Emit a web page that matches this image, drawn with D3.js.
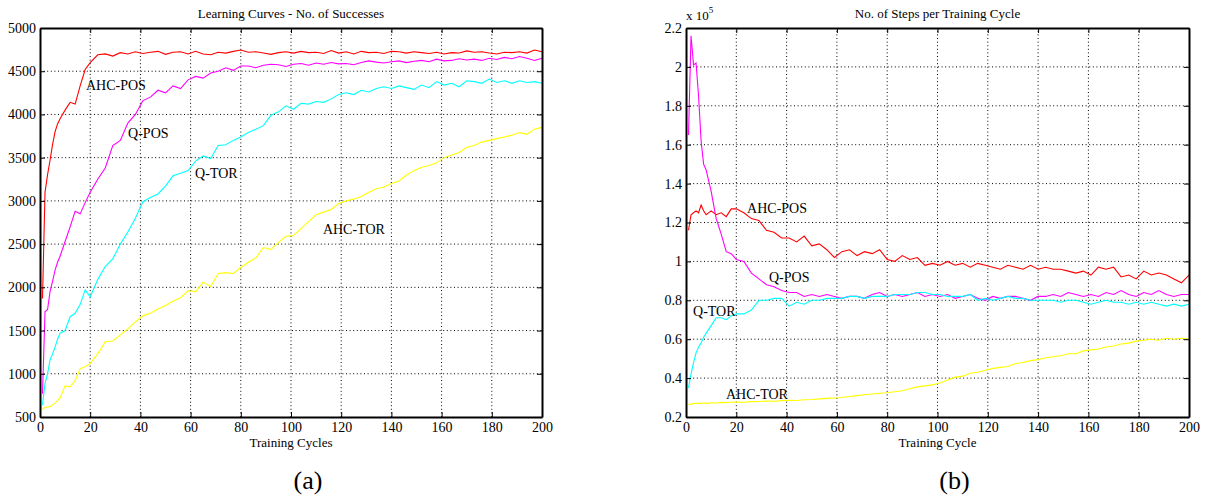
<!DOCTYPE html>
<html>
<head>
<meta charset="utf-8">
<script src="https://cdn.jsdelivr.net/npm/d3@7"></script>
<style>
  body { margin: 0; background: #fff; }
</style>
</head>
<body>
<script>
// training cycles at which the curves are sampled
var cycles = [1,2,3,4,5,6,7,8,10,12,14,16,18,20,
  23,26,29,32,35,38,41,44,47,50,53,56,59,62,65,68,71,74,77,80,
  83,86,89,92,95,98,101,104,107,110,113,116,119,122,125,128,131,134,137,140,
  143,146,149,152,155,158,161,164,167,170,173,176,179,182,185,188,191,194,197,200];

// (a) number of successes
var succAhcPos = [1870,3100,3300,3470,3650,3800,3890,3950,4050,4140,4120,4330,4520,4600,
  4690,4700,4675,4715,4700,4725,4705,4720,4730,4695,4720,4725,4700,4730,4700,4690,4720,4710,4730,4745,
  4720,4725,4710,4695,4715,4725,4710,4730,4715,4720,4705,4740,4710,4725,4700,4730,4715,4720,4705,4730,
  4725,4710,4725,4715,4705,4720,4700,4715,4710,4735,4720,4725,4710,4700,4720,4715,4725,4710,4745,4725];
var succQPos = [770,1720,1740,1950,2070,2200,2290,2360,2530,2700,2880,2850,2980,3100,
  3250,3380,3640,3700,3900,4000,4160,4200,4280,4250,4330,4300,4400,4440,4420,4480,4500,4540,4510,4560,
  4560,4540,4570,4580,4575,4555,4580,4590,4570,4595,4580,4600,4585,4590,4575,4600,4620,4605,4595,4610,
  4620,4600,4615,4625,4610,4640,4620,4625,4645,4630,4640,4625,4650,4635,4660,4645,4670,4650,4625,4650];
var succQTor = [640,890,1000,1160,1230,1310,1400,1470,1500,1660,1700,1800,1970,1890,
  2090,2240,2330,2500,2640,2800,2990,3040,3080,3170,3290,3320,3350,3460,3520,3490,3640,3650,3700,3740,
  3790,3830,3870,3990,4030,4100,4060,4130,4120,4150,4140,4180,4230,4250,4230,4280,4260,4300,4320,4300,
  4330,4310,4290,4340,4310,4380,4340,4360,4320,4390,4380,4360,4410,4370,4390,4360,4390,4370,4380,4360];
var succAhcTor = [590,610,615,620,640,660,690,720,860,850,920,1060,1080,1120,
  1230,1370,1380,1450,1520,1600,1670,1700,1750,1790,1840,1880,1960,1950,2060,2010,2160,2170,2160,2230,
  2290,2340,2460,2440,2520,2590,2600,2680,2760,2840,2870,2900,2970,3000,3020,3050,3100,3140,3160,3200,
  3230,3300,3350,3390,3410,3440,3500,3530,3560,3620,3640,3680,3700,3720,3740,3760,3790,3770,3830,3850];

// (b) steps per training cycle, in units of 10^5
var stepsAhcPos = [1.16,1.24,1.25,1.26,1.25,1.29,1.26,1.24,1.26,1.24,1.25,1.23,1.27,1.27,
  1.25,1.22,1.21,1.16,1.15,1.12,1.12,1.10,1.13,1.08,1.09,1.06,1.02,1.05,1.06,1.03,1.05,1.04,1.06,1.01,
  1.00,1.03,1.01,1.02,0.98,0.99,0.98,1.00,0.98,0.99,0.97,0.99,0.98,0.97,0.96,0.98,0.97,0.96,0.98,0.96,
  0.97,0.96,0.96,0.95,0.94,0.95,0.93,0.97,0.96,0.97,0.92,0.93,0.91,0.95,0.93,0.94,0.93,0.91,0.89,0.93];
var stepsQPos = [1.65,2.16,2.01,2.02,1.85,1.62,1.50,1.47,1.36,1.22,1.14,1.05,1.04,1.01,
  1.00,0.94,0.91,0.88,0.87,0.85,0.84,0.84,0.82,0.83,0.82,0.83,0.82,0.81,0.82,0.82,0.81,0.83,0.84,0.82,
  0.83,0.82,0.83,0.84,0.82,0.83,0.82,0.83,0.81,0.82,0.83,0.81,0.80,0.82,0.81,0.82,0.82,0.81,0.80,0.82,
  0.82,0.83,0.82,0.84,0.83,0.82,0.83,0.82,0.84,0.83,0.85,0.83,0.82,0.84,0.83,0.85,0.83,0.82,0.83,0.83];
var stepsQTor = [0.35,0.42,0.48,0.53,0.56,0.58,0.61,0.63,0.67,0.71,0.71,0.70,0.72,0.73,
  0.73,0.75,0.80,0.80,0.81,0.81,0.77,0.79,0.78,0.80,0.80,0.81,0.81,0.81,0.82,0.82,0.81,0.82,0.82,0.82,
  0.83,0.83,0.83,0.84,0.84,0.83,0.83,0.82,0.82,0.82,0.83,0.80,0.81,0.80,0.81,0.82,0.81,0.81,0.80,0.80,
  0.80,0.80,0.79,0.80,0.80,0.79,0.78,0.79,0.80,0.79,0.79,0.78,0.79,0.78,0.79,0.78,0.77,0.78,0.77,0.78];
var stepsAhcTor = [0.265,0.265,0.27,0.27,0.27,0.27,0.272,0.27,0.273,0.272,0.275,0.274,0.276,0.277,
  0.276,0.279,0.28,0.282,0.281,0.284,0.286,0.285,0.289,0.29,0.293,0.296,0.298,0.30,0.305,0.31,0.314,0.318,0.322,0.325,
  0.33,0.335,0.345,0.355,0.36,0.365,0.375,0.39,0.405,0.41,0.425,0.43,0.44,0.45,0.455,0.46,0.475,0.48,0.49,0.495,
  0.505,0.51,0.515,0.525,0.525,0.54,0.545,0.55,0.56,0.565,0.575,0.58,0.59,0.595,0.60,0.595,0.605,0.60,0.605,0.60];

var seriesNames = ["AHC-POS", "Q-POS", "Q-TOR", "AHC-TOR"];
var seriesColors = ["#ff0000", "#ff00ff", "#00ffff", "#ffff00"];

// label anchors in data space: [cycle, value]
var succLabelPos = [[18.3, 4284], [35.1, 3728], [61.8, 3265], [112.7, 2617]];
var stepsLabelPos = [[24.3, 1.249], [33.0, 0.894], [2.8, 0.719], [15.9, 0.293]];

var serif = "'Liberation Serif', 'Times New Roman', Times, 'DejaVu Serif', serif";

var svg = d3.select("body").append("svg")
  .attr("width", 1207)
  .attr("height", 497);

function drawPanel(p) {
  var x = d3.scaleLinear().domain([0, 200]).range([p.left, p.right]);
  var y = d3.scaleLinear().domain(p.yDomain).range([417, 28]);
  var g = svg.append("g");

  var xt = d3.range(0, 201, 20);
  var yt = y.ticks(10);

  // dotted grid
  g.append("g").selectAll("line").data(xt.slice(1, -1)).enter().append("line")
    .attr("x1", d => x(d)).attr("x2", d => x(d))
    .attr("y1", y.range()[0]).attr("y2", y.range()[1])
    .attr("stroke", "#000").attr("stroke-width", 1).attr("stroke-dasharray", "1,2.6");
  g.append("g").selectAll("line").data(yt.slice(1, -1)).enter().append("line")
    .attr("y1", d => y(d)).attr("y2", d => y(d))
    .attr("x1", p.left).attr("x2", p.right)
    .attr("stroke", "#000").attr("stroke-width", 1).attr("stroke-dasharray", "1,2.6");

  // curves
  var line = d3.line().x((d, i) => x(cycles[i])).y(d => y(d));
  p.series.forEach(function(s, i) {
    g.append("path").datum(s)
      .attr("d", line)
      .attr("fill", "none")
      .attr("stroke", seriesColors[i])
      .attr("stroke-width", 1.1);
  });

  // frame with inward ticks
  var bottom = g.append("g").attr("transform", "translate(0,417)")
    .call(d3.axisBottom(x).tickValues(xt).tickSizeInner(-5).tickSizeOuter(0).tickPadding(5));
  var left = g.append("g").attr("transform", "translate(" + p.left + ",0)")
    .call(d3.axisLeft(y).tickValues(yt).tickSizeInner(-5).tickSizeOuter(0).tickPadding(4).tickFormat(p.fmt));
  var top = g.append("g").attr("transform", "translate(0,28)")
    .call(d3.axisTop(x).tickValues(xt).tickSizeInner(-5).tickSizeOuter(0).tickFormat(""));
  var right = g.append("g").attr("transform", "translate(" + p.right + ",0)")
    .call(d3.axisRight(y).tickValues(yt).tickSizeInner(-5).tickSizeOuter(0).tickFormat(""));
  [bottom, left, top, right].forEach(function(a) {
    a.attr("font-family", null);
    a.select(".domain").attr("stroke", "#000").attr("stroke-width", 2);
    a.selectAll(".tick line").attr("stroke", "#000");
    a.selectAll("text").attr("font-size", 14).attr("fill", "#000");
  });

  // series labels
  p.labels.forEach(function(l, i) {
    g.append("text")
      .attr("x", x(l[0])).attr("y", y(l[1]))
      .attr("font-size", 14)
      .text(seriesNames[i]);
  });

  var mid = (p.left + p.right) / 2;
  g.append("text").attr("x", mid).attr("y", 18).attr("text-anchor", "middle")
    .attr("font-size", 13).text(p.title);
  g.append("text").attr("x", mid).attr("y", 447).attr("text-anchor", "middle")
    .attr("font-size", 13).text(p.xLabel);
  g.append("text").attr("x", mid + 17).attr("y", 489).attr("text-anchor", "middle")
    .attr("font-size", 26).text(p.tag);
  return g;
}

drawPanel({
  left: 40, right: 542,
  yDomain: [500, 5000],
  fmt: d3.format("d"),
  series: [succAhcPos, succQPos, succQTor, succAhcTor],
  labels: succLabelPos,
  title: "Learning Curves - No. of Successes",
  xLabel: "Training Cycles",
  tag: "(a)"
});

var gb = drawPanel({
  left: 686, right: 1189,
  yDomain: [0.2, 2.2],
  fmt: d => (+d.toFixed(1)).toString(),
  series: [stepsAhcPos, stepsQPos, stepsQTor, stepsAhcTor],
  labels: stepsLabelPos,
  title: "No. of Steps per Training Cycle",
  xLabel: "Training Cycle",
  tag: "(b)"
});

// exponent note above the y axis of panel (b)
var ex = gb.append("text").attr("x", 686).attr("y", 20).attr("font-size", 13);
ex.append("tspan").text("x 10");
ex.append("tspan").attr("dy", -7).attr("font-size", 9).text("5");

svg.selectAll("text").style("font-family", serif).attr("fill", "#000");
</script>
</body>
</html>
